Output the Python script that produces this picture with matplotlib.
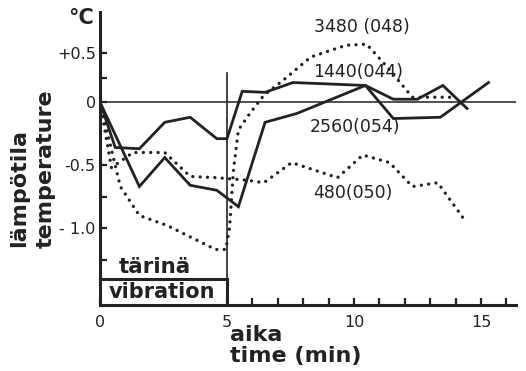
import matplotlib.pyplot as plt
import numpy as np

# Data (time in min, temperature change in °C)
t_3480 = [0, 0.3, 0.8, 1.55, 2.65, 3.55, 4.55, 4.95, 5.1, 5.25, 5.45, 5.9, 6.45, 7.2, 8.3, 9.7, 10.5, 11.3, 12.3, 13.9]
v_3480 = [0, -0.25, -0.67, -0.90, -0.98, -1.07, -1.17, -1.17, -1.0, -0.55, -0.22, -0.09, 0.07, 0.22, 0.46, 0.58, 0.59, 0.36, 0.05, 0.05]

t_1440 = [0, 0.6, 1.55, 2.55, 3.55, 4.6, 5.0, 5.6, 6.5, 7.6, 10.45, 11.55, 12.5, 13.5, 14.45]
v_1440 = [0, -0.36, -0.37, -0.16, -0.12, -0.29, -0.29, 0.11, 0.10, 0.20, 0.17, 0.03, 0.03, 0.17, -0.05]

t_2560 = [0, 1.55, 2.55, 3.55, 4.6, 5.45, 6.5, 7.75, 10.45, 11.55, 13.4, 15.3]
v_2560 = [0, -0.67, -0.44, -0.66, -0.70, -0.83, -0.16, -0.09, 0.17, -0.13, -0.12, 0.20]

t_480 = [0, 0.45, 1.3, 2.55, 3.55, 4.6, 5.8, 6.45, 7.55, 9.35, 10.35, 11.4, 12.3, 13.3, 14.3]
v_480 = [0, -0.52, -0.40, -0.40, -0.59, -0.60, -0.62, -0.64, -0.48, -0.60, -0.42, -0.48, -0.67, -0.64, -0.92]

yticks_major = [0.5, 0, -0.5, -1.0]
ytick_labels = ['+0.5', '0', '-0.5', '- 1.0']
yticks_minor = [0.25, -0.75, -1.25]
xticks_major = [0, 5, 10, 15]
xticks_minor = [6, 7, 8, 9, 11, 12, 13, 14, 16]

ink = '#222222'
lw_solid = 2.0
dotted = dict(color=ink, lw=2.4, linestyle=(0, (0.01, 2.2)), dash_capstyle='round')

fig = plt.figure(figsize=(5.26, 3.71), dpi=100)
ax = fig.add_axes([100 / 526, 1 - 305 / 371, 416 / 526, 293 / 371])

# the hand drawn axis is squeezed above zero, so compress positive values
ax.set_yscale('function', functions=(lambda v: np.where(v > 0, v * 0.78, v),
                                     lambda u: np.where(u > 0, u / 0.78, u)))
ax.set_xlim(0, 16.38)
ax.set_ylim(-1.611, 0.918)

ax.axhline(0, color=ink, lw=1.1)
ax.plot([5, 5], [-1.611, 0.30], color=ink, lw=1.2)

ax.plot(t_3480, v_3480, **dotted)
ax.plot(t_480, v_480, **dotted)
ax.plot(t_1440, v_1440, color=ink, lw=lw_solid, solid_joinstyle='miter')
ax.plot(t_2560, v_2560, color=ink, lw=lw_solid, solid_joinstyle='miter')

# vibration box
ax.plot([0, 5, 5], [-1.405, -1.405, -1.611], color=ink, lw=2.2, solid_joinstyle='miter')
ax.text(2.17, -1.31, 'tärinä', fontsize=15.5, fontweight='bold', color=ink, ha='center', va='center')
ax.text(2.45, -1.505, 'vibration', fontsize=15, fontweight='bold', color=ink, ha='center', va='center')

# series labels
ax.text(10.3, 0.765, '3480 (048)', fontsize=12.5, color=ink, ha='center', va='center')
ax.text(10.15, 0.306, '1440(044)', fontsize=12.5, color=ink, ha='center', va='center')
ax.text(10.05, -0.198, '2560(054)', fontsize=12.5, color=ink, ha='center', va='center')
ax.text(9.95, -0.722, '480(050)', fontsize=12.5, color=ink, ha='center', va='center')

for side in ['top', 'right']:
    ax.spines[side].set_visible(False)
for side in ['left', 'bottom']:
    ax.spines[side].set_linewidth(2.2)
    ax.spines[side].set_color(ink)

ax.set_yticks(yticks_major)
ax.set_yticklabels(ytick_labels)
ax.set_yticks(yticks_minor, minor=True)
ax.set_xticks(xticks_major)
ax.set_xticks(xticks_minor, minor=True)
ax.tick_params(which='both', direction='in', length=5, width=1.6, color=ink,
               labelsize=11.5, labelcolor=ink)
ax.tick_params(axis='x', pad=7)
ax.tick_params(axis='y', pad=3)

fig.text(81 / 526, 1 - 18 / 371, '°C', fontsize=15, fontweight='bold', color=ink, ha='center', va='center')
fig.text(19 / 526, 1 - 247 / 371, 'lämpötila', fontsize=16, fontweight='bold', color=ink,
         rotation=90, ha='center', va='bottom')
fig.text(46 / 526, 1 - 248 / 371, 'temperature', fontsize=16, fontweight='bold', color=ink,
         rotation=90, ha='center', va='bottom')
fig.text(230 / 526, 1 - 335 / 371, 'aika', fontsize=16, fontweight='bold', color=ink, ha='left', va='center')
fig.text(230 / 526, 1 - 356 / 371, 'time (min)', fontsize=16, fontweight='bold', color=ink, ha='left', va='center')

fig.savefig('out.png', dpi=100)
